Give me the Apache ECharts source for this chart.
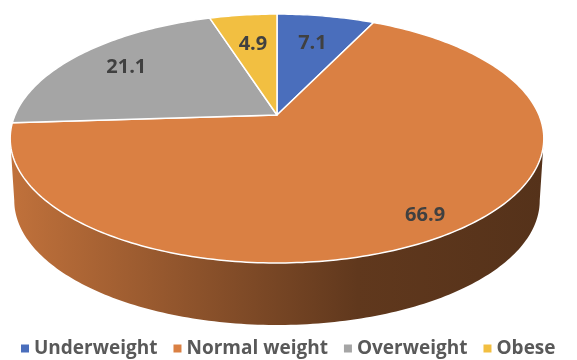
<!DOCTYPE html>
<html>
<head>
<meta charset="utf-8">
<script src="https://cdn.jsdelivr.net/npm/echarts@6/dist/echarts.min.js"></script>
<style>
  html, body { margin: 0; padding: 0; background: #fff; }
  #chart { width: 577px; height: 360px; }
</style>
</head>
<body>
<div id="chart"></div>
<script>
const categories = ['Underweight', 'Normal weight', 'Overweight', 'Obese'];
const shares = [7.1, 66.9, 21.1, 4.9];
const colors = ['#4A6EBC', '#DA8043', '#A5A5A5', '#F2BF41'];

// tilted pie with a little perspective
const cx = 277, cy = 115;
const rx = 262, ry = 120, persp = 0.189;
const depth = 62, rxBottom = 258;
const total = shares.reduce((a, b) => a + b, 0);
const starts = shares.map((v, i) => shares.slice(0, i).reduce((a, b) => a + b, 0) * 360 / total);
const sideFrom = Math.acos(-persp) * 180 / Math.PI;
const sideTo = 360 - sideFrom;

function proj(f, deg, bottom) {
  const t = deg * Math.PI / 180;
  const u = f * Math.sin(t), v = f * Math.cos(t);
  const d = 1 + persp * v;
  return [cx + (bottom ? rxBottom : rx) * u / d, cy - ry * v / d + (bottom ? depth : 0)];
}

function arc(a1, a2, bottom) {
  const pts = [];
  const n = Math.max(2, Math.ceil(Math.abs(a2 - a1)));
  for (let i = 0; i <= n; i++) pts.push(proj(1, a1 + (a2 - a1) * i / n, bottom));
  return pts;
}

function shade(hex, k) {
  const n = parseInt(hex.slice(1), 16);
  const c = [(n >> 16) & 255, (n >> 8) & 255, n & 255].map(x => Math.round(x * k));
  return 'rgb(' + c.join(',') + ')';
}

function drawSlice(i, val) {
  const a1 = starts[i];
  const a2 = a1 + val * 360 / total;
  const color = colors[i];
  const children = [];

  // front wall
  const s = Math.max(a1, sideFrom), e = Math.min(a2, sideTo);
  if (e > s) {
    children.push({
      type: 'polygon',
      z2: 1,
      shape: { points: arc(s, e, false).concat(arc(e, s, true)) },
      style: {
        fill: {
          type: 'linear', x: cx - rx - 3, y: 0, x2: cx + rx + 5, y2: 0, global: true,
          colorStops: [
            { offset: 0, color: shade(color, 0.88) },
            { offset: 0.35, color: shade(color, 0.64) },
            { offset: 0.65, color: shade(color, 0.44) },
            { offset: 1, color: shade(color, 0.39) }
          ]
        }
      }
    });
  }

  // top face
  children.push({
    type: 'polygon',
    z2: 10,
    shape: { points: [proj(0, 0, false)].concat(arc(a1, a2, false)) },
    style: { fill: color, stroke: '#fff', lineWidth: 1.5, lineJoin: 'round' }
  });

  // value label
  const pct = val / total * 100;
  const p = proj(0.6 + 0.0333 * Math.sqrt(pct), (a1 + a2) / 2, false);
  children.push({
    type: 'text',
    z2: 20,
    x: p[0],
    y: p[1],
    style: {
      text: val.toFixed(1),
      fill: '#404040',
      fontSize: 20,
      fontWeight: 'bold',
      fontFamily: 'Open Sans',
      align: 'center',
      verticalAlign: 'middle'
    }
  });

  return { type: 'group', children: children };
}

const chart = echarts.init(document.getElementById('chart'));
chart.setOption({
  animation: false,
  legend: {
    data: categories,
    left: 21,
    top: 339,
    width: 556,
    padding: 0,
    icon: 'rect',
    itemWidth: 8,
    itemHeight: 8,
    itemGap: 16,
    textStyle: { fontSize: 19, fontWeight: 'bold', color: '#595959', fontFamily: 'Open Sans' }
  },
  series: categories.map((name, i) => ({
    type: 'custom',
    name: name,
    coordinateSystem: 'none',
    silent: true,
    itemStyle: { color: colors[i] },
    data: [[shares[i]]],
    renderItem: (params, api) => drawSlice(i, api.value(0))
  }))
});
</script>
</body>
</html>
